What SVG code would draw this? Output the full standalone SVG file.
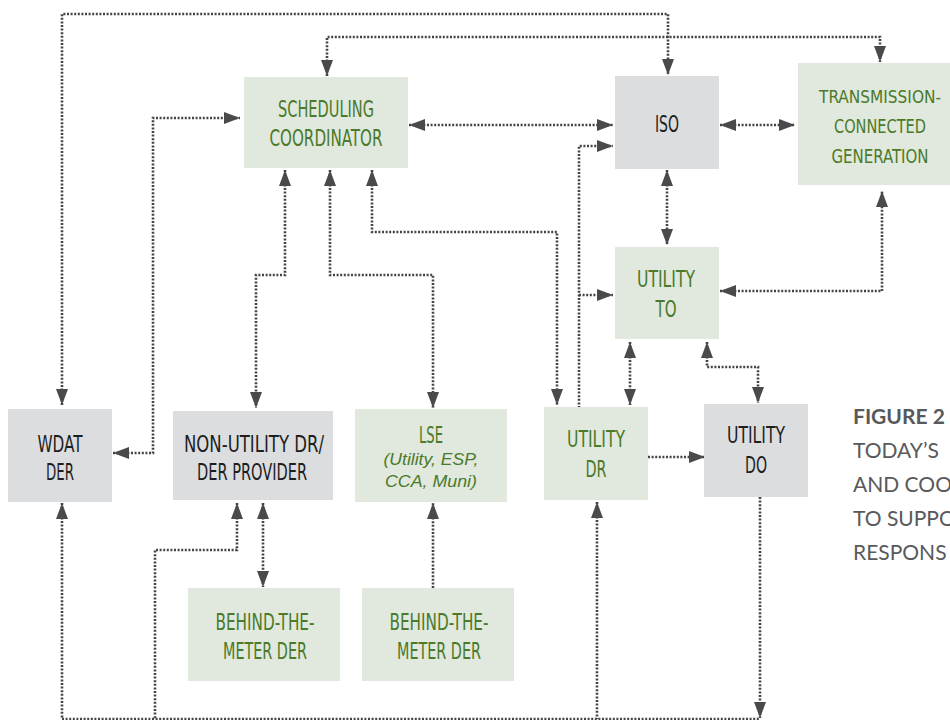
<svg xmlns="http://www.w3.org/2000/svg" width="950" height="720" viewBox="0 0 950 720">
<style>
.bg{fill:#e1e8dd}
.bk{fill:#dcdddf}
.t{font-family:"Liberation Sans Narrow","DejaVu Sans Condensed","Liberation Sans",sans-serif;font-size:23px;text-anchor:middle}
.s{font-size:20px}
.xs{font-size:18px}
.g{fill:#4a7a2a}
.k{fill:#1e1e1e}
.it{font-family:"Liberation Sans",sans-serif;font-style:italic;font-size:17px;text-anchor:middle;fill:#4a7a2a}
.c{fill:none;stroke:#444446;stroke-width:2.6;stroke-dasharray:2 1.6}
.cap{font-family:Lato,"Open Sans",sans-serif;font-size:21px;fill:#58595b}
</style>
<defs>
<marker id="ah" viewBox="0 0 16 12" refX="16" refY="6" markerWidth="16" markerHeight="12" markerUnits="userSpaceOnUse" orient="auto-start-reverse">
<path d="M0,0 L16,6 L0,12 z" fill="#4a4a4c"/>
</marker>
</defs>
<rect width="950" height="720" fill="#ffffff"/>
<g id="connectors">
<path class="c" d="M62,405 V14 H668 V75" marker-start="url(#ah)" marker-end="url(#ah)"/>
<path class="c" d="M327,76 V37 H880 V62" marker-start="url(#ah)" marker-end="url(#ah)"/>
<path class="c" d="M113,453 H153 V118 H240" marker-start="url(#ah)" marker-end="url(#ah)"/>
<path class="c" d="M409,125 H613" marker-start="url(#ah)" marker-end="url(#ah)"/>
<path class="c" d="M720,125 H795" marker-start="url(#ah)" marker-end="url(#ah)"/>
<path class="c" d="M579,408 V146 H613" marker-end="url(#ah)"/>
<path class="c" d="M579,295 H613" marker-end="url(#ah)"/>
<path class="c" d="M667,170 V245" marker-start="url(#ah)" marker-end="url(#ah)"/>
<path class="c" d="M720,291 H882 V191" marker-start="url(#ah)" marker-end="url(#ah)"/>
<path class="c" d="M285,170 V275 H256 V408" marker-start="url(#ah)" marker-end="url(#ah)"/>
<path class="c" d="M330,170 V275 H433 V408" marker-start="url(#ah)" marker-end="url(#ah)"/>
<path class="c" d="M372,170 V232 H557 V405" marker-start="url(#ah)" marker-end="url(#ah)"/>
<path class="c" d="M630,342 V405" marker-start="url(#ah)" marker-end="url(#ah)"/>
<path class="c" d="M707,342 V367 H758 V403" marker-start="url(#ah)" marker-end="url(#ah)"/>
<path class="c" d="M648,457 H705" marker-end="url(#ah)"/>
<path class="c" d="M263,503 V587" marker-start="url(#ah)" marker-end="url(#ah)"/>
<path class="c" d="M433,588 V503" marker-end="url(#ah)"/>
<path class="c" d="M760,497 V718" marker-end="url(#ah)"/>
<path class="c" d="M62,503 V719 H760" marker-start="url(#ah)"/>
<path class="c" d="M237,503 V550 H155 V719" marker-start="url(#ah)"/>
<path class="c" d="M597,502 V719" marker-start="url(#ah)"/>
</g>
<g id="sc">
<rect class="bg" x="244" y="77" width="164" height="91"/>
<text class="t g" x="326" y="117" textLength="96" lengthAdjust="spacingAndGlyphs">SCHEDULING</text>
<text class="t g" x="326" y="146" textLength="113" lengthAdjust="spacingAndGlyphs">COORDINATOR</text>
</g>
<g id="iso">
<rect class="bk" x="615" y="76" width="104" height="93"/>
<text class="t k" x="667" y="132" textLength="24" lengthAdjust="spacingAndGlyphs">ISO</text>
</g>
<g id="tcg">
<rect class="bg" x="798" y="63" width="152" height="122"/>
<text class="t xs g" x="880" y="103" textLength="122" lengthAdjust="spacingAndGlyphs">TRANSMISSION-</text>
<text class="t s g" x="880" y="133" textLength="92" lengthAdjust="spacingAndGlyphs">CONNECTED</text>
<text class="t s g" x="880" y="163" textLength="97" lengthAdjust="spacingAndGlyphs">GENERATION</text>
</g>
<g id="utility-to">
<rect class="bg" x="615" y="247" width="104" height="92"/>
<text class="t g" x="666" y="287" textLength="58" lengthAdjust="spacingAndGlyphs">UTILITY</text>
<text class="t g" x="666" y="317" textLength="21" lengthAdjust="spacingAndGlyphs">TO</text>
</g>
<g id="wdat-der">
<rect class="bk" x="8" y="409" width="104" height="93"/>
<text class="t k" x="60" y="452" textLength="45" lengthAdjust="spacingAndGlyphs">WDAT</text>
<text class="t k" x="60" y="480" textLength="28" lengthAdjust="spacingAndGlyphs">DER</text>
</g>
<g id="non-utility">
<rect class="bk" x="173" y="411" width="160" height="89"/>
<text class="t k" x="254" y="452" textLength="140" lengthAdjust="spacingAndGlyphs">NON-UTILITY DR/</text>
<text class="t k" x="252" y="480" textLength="110" lengthAdjust="spacingAndGlyphs">DER PROVIDER</text>
</g>
<g id="lse">
<rect class="bg" x="355" y="409" width="152" height="93"/>
<text class="t g" x="431" y="443" textLength="24" lengthAdjust="spacingAndGlyphs">LSE</text>
<text class="it" x="431" y="465" textLength="95" lengthAdjust="spacingAndGlyphs">(Utility, ESP,</text>
<text class="it" x="431" y="487" textLength="92" lengthAdjust="spacingAndGlyphs">CCA, Muni)</text>
</g>
<g id="utility-dr">
<rect class="bg" x="544" y="407" width="104" height="93"/>
<text class="t g" x="596" y="447" textLength="58" lengthAdjust="spacingAndGlyphs">UTILITY</text>
<text class="t g" x="596" y="477" textLength="21" lengthAdjust="spacingAndGlyphs">DR</text>
</g>
<g id="utility-do">
<rect class="bk" x="704" y="404" width="104" height="93"/>
<text class="t k" x="756" y="443" textLength="58" lengthAdjust="spacingAndGlyphs">UTILITY</text>
<text class="t k" x="756" y="473" textLength="22" lengthAdjust="spacingAndGlyphs">DO</text>
</g>
<g id="btm-der-1">
<rect class="bg" x="188" y="588" width="152" height="93"/>
<text class="t g" x="265" y="630" textLength="99" lengthAdjust="spacingAndGlyphs">BEHIND-THE-</text>
<text class="t g" x="265" y="659" textLength="84" lengthAdjust="spacingAndGlyphs">METER DER</text>
</g>
<g id="btm-der-2">
<rect class="bg" x="362" y="588" width="152" height="93"/>
<text class="t g" x="439" y="630" textLength="99" lengthAdjust="spacingAndGlyphs">BEHIND-THE-</text>
<text class="t g" x="439" y="659" textLength="84" lengthAdjust="spacingAndGlyphs">METER DER</text>
</g>
<g id="caption">
<text class="cap" x="853" y="424" font-weight="bold">FIGURE 2</text>
<text class="cap" x="853" y="458">TODAY’S</text>
<text class="cap" x="853" y="492">AND COO</text>
<text class="cap" x="853" y="526">TO SUPPO</text>
<text class="cap" x="853" y="560">RESPONS</text>
</g>
</svg>
